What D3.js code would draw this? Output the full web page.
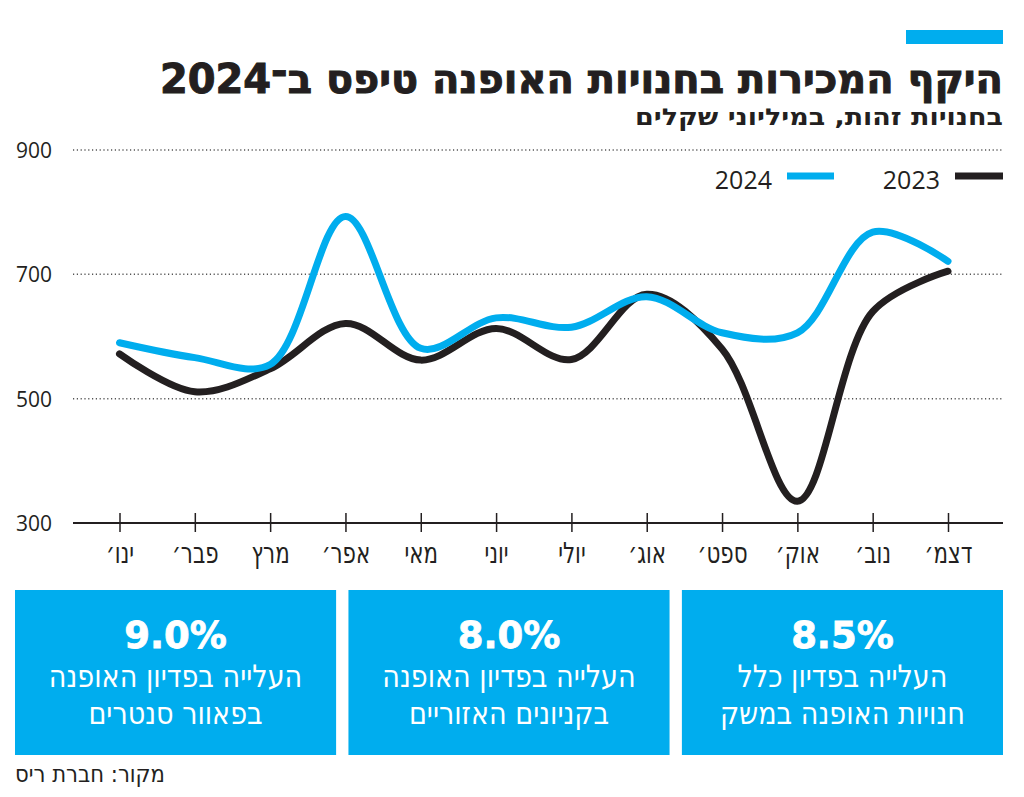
<!DOCTYPE html>
<html>
<head>
<meta charset="utf-8">
<script src="https://cdn.jsdelivr.net/npm/d3@7"></script>
<style>
  html, body { margin: 0; padding: 0; background: #fff; }
  svg { display: block; }
</style>
</head>
<body>
<svg id="chart" width="1024" height="797"></svg>
<script>
const months = ["ינו׳","פבר׳","מרץ","אפר׳","מאי","יוני","יולי","אוג׳","ספט׳","אוק׳","נוב׳","דצמ׳"];
const sales2024 = [590, 566, 555, 793, 581, 630, 615, 664, 606, 606, 768, 721];
const sales2023 = [572, 511, 548, 621, 562, 613, 563, 668, 580, 335, 640, 705];
const yTicks = [300, 500, 700, 900];
const seriesNames = ["2024", "2023"];
const boxPercents = ["9.0%", "8.0%", "8.5%"];
const boxLine1 = ["העלייה בפדיון האופנה", "העלייה בפדיון האופנה", "העלייה בפדיון כלל"];
const boxLine2 = ["בפאוור סנטרים", "בקניונים האזוריים", "חנויות האופנה במשק"];
const titleText = "היקף המכירות בחנויות האופנה טיפס ב־2024";
const subtitleText = "בחנויות זהות, במיליוני שקלים";
const sourceText = "מקור: חברת ריס";

const BLUE = "#00adee";
const BLACK = "#231f20";
const HEB = "'DejaVu Sans Condensed', 'DejaVu Sans', sans-serif";
const NUM = "'Open Sans', 'DejaVu Sans', sans-serif";

const svg = d3.select("#chart");

// accent bar
svg.append("rect").attr("x", 906).attr("y", 30).attr("width", 97).attr("height", 14).attr("fill", BLUE);

// title
svg.append("text").attr("x", 1003).attr("y", 93).attr("text-anchor", "end")
  .attr("font-family", HEB).attr("font-weight", "bold").attr("font-size", 40)
  .attr("fill", BLACK).attr("stroke", BLACK).attr("stroke-width", 0.9)
  .attr("textLength", 843).attr("lengthAdjust", "spacingAndGlyphs")
  .text(titleText);

svg.append("text").attr("x", 1003).attr("y", 125).attr("text-anchor", "end")
  .attr("font-family", HEB).attr("font-weight", "bold").attr("font-size", 23)
  .attr("fill", BLACK).attr("textLength", 368).attr("lengthAdjust", "spacingAndGlyphs")
  .text(subtitleText);

const x = d3.scalePoint().domain(months).range([119.5, 948]);
const y = d3.scaleLinear().domain([300, 900]).range([523, 150]);

// grid lines
svg.append("g").selectAll("line").data(yTicks.filter(d => d > 300)).join("line")
  .attr("x1", 73).attr("x2", 1003)
  .attr("y1", d => y(d)).attr("y2", d => y(d))
  .attr("stroke", "#555").attr("stroke-width", 1.5).attr("stroke-dasharray", "1.2,2.6");

// y axis labels
const yAxis = d3.axisLeft(y).tickValues(yTicks).tickSize(0).tickPadding(0);
const gy = svg.append("g").attr("transform", "translate(52,0)").call(yAxis);
gy.select(".domain").remove();
gy.selectAll("text").attr("font-family", NUM).attr("font-size", 21).attr("fill", BLACK)
  .attr("dy", "0.35em");

// x axis
svg.append("line").attr("x1", 73).attr("x2", 1003).attr("y1", y(300)).attr("y2", y(300))
  .attr("stroke", BLACK).attr("stroke-width", 2);
const xAxis = d3.axisBottom(x).tickSizeOuter(0).tickSizeInner(9).tickPadding(0);
const gx = svg.append("g").attr("transform", `translate(0,${y(300)})`).call(xAxis);
gx.select(".domain").remove();
gx.selectAll(".tick line").attr("y1", -10).attr("y2", 9).attr("stroke", BLACK).attr("stroke-width", 1.5);
gx.selectAll(".tick text").attr("y", 40).attr("dy", 0)
  .attr("font-family", HEB).attr("font-size", 29).attr("fill", BLACK)
  .attr("transform", "scale(0.82,1)");

// lines
const line = d3.line().x((d, i) => x(months[i])).y(d => y(d)).curve(d3.curveCatmullRom.alpha(0.5));
svg.append("path").datum(sales2023).attr("d", line).attr("fill", "none")
  .attr("stroke", BLACK).attr("stroke-width", 7).attr("stroke-linecap", "round");
svg.append("path").datum(sales2024).attr("d", line).attr("fill", "none")
  .attr("stroke", BLUE).attr("stroke-width", 7).attr("stroke-linecap", "round");

// legend
const legend = [
  {name: seriesNames[0], color: BLUE, tx: 772, sx1: 787, sx2: 834},
  {name: seriesNames[1], color: BLACK, tx: 940, sx1: 955, sx2: 1003}
];
const lg = svg.append("g").selectAll("g").data(legend).join("g");
lg.append("text").attr("x", d => d.tx).attr("y", 189).attr("text-anchor", "end")
  .attr("font-family", NUM).attr("font-size", 25).attr("fill", BLACK).text(d => d.name);
lg.append("line").attr("x1", d => d.sx1).attr("x2", d => d.sx2).attr("y1", 176).attr("y2", 176)
  .attr("stroke", d => d.color).attr("stroke-width", 7);

// boxes
const boxX = d3.scaleBand().domain([0, 1, 2]).range([15, 1003]).paddingInner(0.037);
const boxes = svg.append("g").selectAll("g").data(boxPercents).join("g")
  .attr("transform", (d, i) => `translate(${boxX(i)},590)`);
boxes.append("rect").attr("width", boxX.bandwidth()).attr("height", 165).attr("fill", BLUE);
boxes.append("text").attr("x", boxX.bandwidth() / 2).attr("y", 58).attr("text-anchor", "middle")
  .attr("font-family", "'DejaVu Sans', sans-serif").attr("font-weight", "bold").attr("font-size", 37)
  .attr("fill", "#fff").attr("stroke", "#fff").attr("stroke-width", 0.8).text(d => d);
const cx = boxX.bandwidth() / 2;
boxes.append("text").attr("x", 0).attr("y", 97).attr("text-anchor", "middle")
  .attr("transform", `translate(${cx},0) scale(0.97,1)`)
  .attr("font-family", HEB).attr("font-size", 31).attr("fill", "#fff").text((d, i) => boxLine1[i]);
boxes.append("text").attr("x", 0).attr("y", 134).attr("text-anchor", "middle")
  .attr("transform", `translate(${cx},0) scale(0.97,1)`)
  .attr("font-family", HEB).attr("font-size", 31).attr("fill", "#fff").text((d, i) => boxLine2[i]);

// source
svg.append("text").attr("x", 165).attr("y", 782).attr("text-anchor", "end")
  .attr("font-family", HEB).attr("font-size", 23).attr("fill", BLACK)
  .attr("textLength", 150).attr("lengthAdjust", "spacingAndGlyphs").text(sourceText);
</script>
</body>
</html>
